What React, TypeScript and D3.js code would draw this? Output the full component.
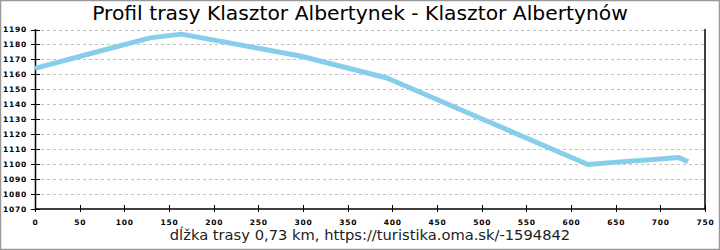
import React from "react";
import * as d3 from "d3";

const title = "Profil trasy Klasztor Albertynek - Klasztor Albertynów";
const xLabel = "dĺžka trasy 0,73 km, https://turistika.oma.sk/-1594842";
const distances = [0, 73, 129, 164, 297, 394, 498, 619, 655, 700, 720, 731];
const elevations = [1164, 1175.6, 1184.4, 1186.9, 1172.3, 1157.6, 1130.8, 1099.8, 1101.5, 1103.4, 1104.5, 1101.7];
const xTicks = [0, 50, 100, 150, 200, 250, 300, 350, 400, 450, 500, 550, 600, 650, 700, 750];
const yTicks = [1070, 1080, 1090, 1100, 1110, 1120, 1130, 1140, 1150, 1160, 1170, 1180, 1190];

export default function App() {
  const W = 720, H = 250;
  const x = d3.scaleLinear().domain([0, 750]).range([35, 705]);
  const y = d3.scaleLinear().domain([1070, 1190]).range([209, 29.5]);
  const pts: [number, number][] = distances.map((d, i) => [d, elevations[i]]);
  const line = d3.line<[number, number]>().x(d => x(d[0])).y(d => y(d[1]));
  const tickFont = { fontFamily: "DejaVu Sans", fontSize: 7.5, fontWeight: "bold" as const, letterSpacing: 0.8 };
  return (
    <svg width={W} height={H} style={{ position: "absolute", left: 0, top: 0 }}>
      <rect x={0.5} y={0.5} width={W - 1} height={H - 1} fill="#fff" stroke="#999" strokeWidth={1.5} />
      <text x={360} y={20} textAnchor="middle" fontFamily="DejaVu Sans" fontSize={20.3} fill="#000">{title}</text>
      {yTicks.map(t => (
        <g key={"y" + t}>
          {t !== 1070 && (
            <line x1={35} x2={705} y1={Math.round(y(t)) + 0.5} y2={Math.round(y(t)) + 0.5} stroke="#c0c0c0" strokeDasharray="3,3" />
          )}
          <line x1={31} x2={40} y1={Math.round(y(t)) + 0.5} y2={Math.round(y(t)) + 0.5} stroke="#000" />
          <text x={27} y={y(t) + 2.8} textAnchor="end" {...tickFont} fill="#000">{t}</text>
        </g>
      ))}
      {xTicks.map(t => (
        <g key={"x" + t}>
          <line x1={Math.round(x(t)) + 0.5} x2={Math.round(x(t)) + 0.5} y1={205} y2={212} stroke="#000" />
          <text x={x(t) + 0.5} y={225} textAnchor="middle" {...tickFont} fill="#000">{t}</text>
        </g>
      ))}
      <line x1={35.5} x2={35.5} y1={29} y2={210} stroke="#000" strokeWidth={1.5} />
      <line x1={35} x2={705} y1={209} y2={209} stroke="#000" strokeWidth={1.5} />
      <line x1={705} x2={705} y1={29} y2={210} stroke="#000" strokeWidth={1.5} />
      <path d={line(pts) || ""} fill="none" stroke="#87ceeb" strokeWidth={5} strokeLinejoin="round" />
      <text x={370} y={240} textAnchor="middle" fontFamily="DejaVu Sans" fontSize={14.7} fill="#222">{xLabel}</text>
    </svg>
  );
}
